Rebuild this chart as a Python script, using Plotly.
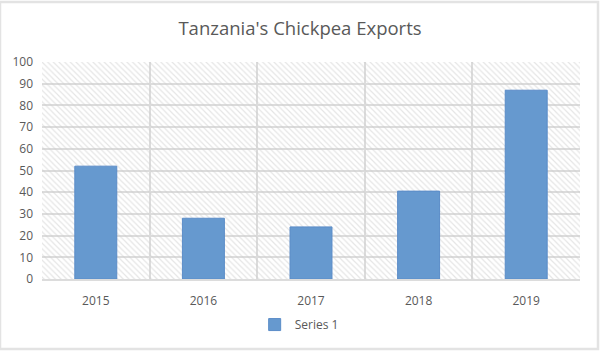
import plotly.graph_objects as go

years = ["2015", "2016", "2017", "2018", "2019"]
exports = [52, 28, 24, 40.5, 87]
y_max = 100
series_name = "Series 1"
title_text = "Tanzania's Chickpea Exports"

fig = go.Figure()

# hatched plot background
fig.add_trace(go.Bar(
    x=years, y=[y_max] * len(years), width=1,
    marker=dict(color="rgba(0,0,0,0)", line=dict(width=0),
                pattern=dict(shape="\\", fgcolor="#cccccc", bgcolor="rgba(0,0,0,0)",
                             size=4, solidity=0.3)),
    showlegend=False, hoverinfo="skip",
))

fig.add_trace(go.Bar(
    x=years, y=exports, width=0.39, name=series_name,
    marker=dict(color="#6699cf", line=dict(color="#5b8cc8", width=1)),
))

font = "Open Sans, Noto Sans, sans-serif"
fig.update_layout(
    width=600, height=352,
    barmode="overlay",
    paper_bgcolor="white", plot_bgcolor="white",
    margin=dict(l=42, r=20, t=62, b=73),
    title=dict(text=title_text, x=0.5, xanchor="center", y=0.918, yanchor="middle",
               font=dict(family=font, size=18.5, color="#595959")),
    font=dict(family=font, size=12, color="#595959"),
    showlegend=True,
    legend=dict(orientation="h", x=0.478, xanchor="center", y=-0.21, yanchor="middle",
                font=dict(size=12, color="#595959"), itemwidth=30),
    xaxis=dict(type="category", tickson="boundaries", showgrid=True, gridcolor="#dcdcdc",
               gridwidth=1.5, ticks="", showline=True, linecolor="#dcdcdc", linewidth=1.5,
               ticklabelstandoff=10,
               tickfont=dict(size=12, color="#595959")),
    yaxis=dict(range=[0, y_max], dtick=10, showgrid=True, gridcolor="#dcdcdc", gridwidth=1.5,
               zeroline=False, ticks="", ticklabelstandoff=8,
               tickfont=dict(size=12, color="#595959")),
)

# outer chart border
fig.add_shape(type="rect", xref="paper", yref="paper",
              x0=-42/538, x1=1 + 18/538, y0=-70/217, y1=1 + 60/217,
              line=dict(color="#e3e3e3", width=2.5), layer="below")

fig.write_html("out.html")
